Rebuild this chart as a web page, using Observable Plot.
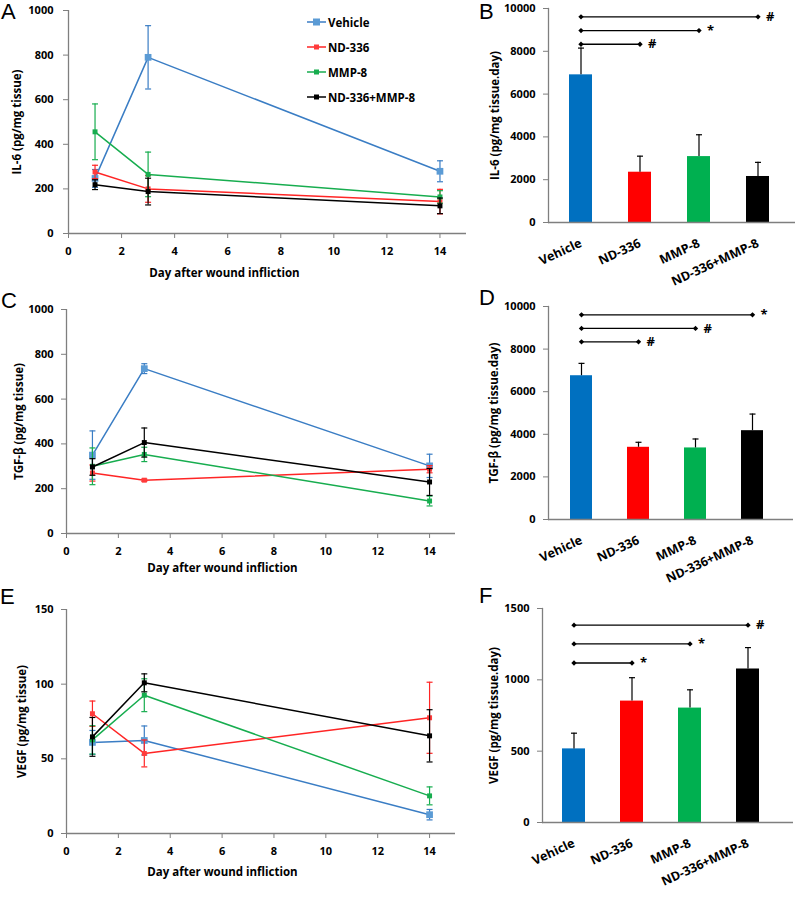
<!DOCTYPE html>
<html><head><meta charset="utf-8">
<script src="https://cdn.jsdelivr.net/npm/d3@7"></script>
<script src="https://cdn.jsdelivr.net/npm/@observablehq/plot@0.6"></script>
<style>
body{margin:0;background:#fff;}
#fig{position:relative;width:795px;height:900px;background:#fff;overflow:hidden;}
.panel{position:absolute;}
.letter{position:absolute;font-family:"Liberation Sans",Arial,sans-serif;font-size:22px;line-height:20px;height:20px;color:#000;}
.legend{position:absolute;font-family:"Open Sans",sans-serif;font-weight:700;font-size:11.5px;color:#000;}
.legend .row{position:absolute;left:0;height:14px;display:flex;align-items:center;white-space:nowrap;}
.legend svg{margin-right:2px;}
</style></head><body><div id="fig"></div>
<script>
// ---------- data ----------
const groups = ["Vehicle", "ND-336", "MMP-8", "ND-336+MMP-8"];
const days = [1, 3, 14];
const dayTicks = [0, 2, 4, 6, 8, 10, 12, 14];
const xTitle = "Day after wound infliction";

// Panel A: IL-6 (pg/mg tissue), per group over days
const il6Means = [[247, 790, 279], [276, 200, 143], [456, 265, 164], [219, 188, 124]];
const il6Errs  = [[40, 142, 47], [30, 60, 55], [125, 100, 28], [22, 60, 35]];
const il6Ticks = [0, 200, 400, 600, 800, 1000];

// Panel C: TGF-β
const tgfMeans = [[350, 736, 302], [270, 238, 287], [300, 353, 145], [297, 406, 230]];
const tgfErrs  = [[108, 22, 52], [36, 5, 16], [82, 32, 22], [37, 65, 60]];
const tgfTicks = [0, 200, 400, 600, 800, 1000];

// Panel E: VEGF
const vegfMeans = [[61, 62.3, 12.6], [80.2, 53.6, 77.5], [62.7, 92.6, 25.2], [64.7, 100.9, 65.4]];
const vegfErrs  = [[8, 9.7, 3.5], [8.5, 9, 23.8], [9.5, 11, 6], [13, 6, 17.5]];
const vegfTicks = [0, 50, 100, 150];

// Panels B, D, F: area under curve (pg/mg tissue.day)
const il6Auc = [6900, 2350, 3080, 2150];
const il6AucErr = [1250, 750, 1020, 660];
const il6AucTicks = [0, 2000, 4000, 6000, 8000, 10000];
const tgfAuc = [6750, 3390, 3360, 4170];
const tgfAucErr = [580, 235, 420, 780];
const tgfAucTicks = [0, 2000, 4000, 6000, 8000, 10000];
const vegfAuc = [516, 851, 802, 1076];
const vegfAucErr = [110, 164, 128, 150];
const vegfAucTicks = [0, 500, 1000, 1500];

// significance brackets (Vehicle vs group)
const il6Sig  = [{to: "ND-336", level: 8330, mark: "#"}, {to: "MMP-8", level: 8970, mark: "*"}, {to: "ND-336+MMP-8", level: 9610, mark: "#"}];
const tgfSig  = [{to: "ND-336", level: 8340, mark: "#"}, {to: "MMP-8", level: 8970, mark: "#"}, {to: "ND-336+MMP-8", level: 9610, mark: "*"}];
const vegfSig = [{to: "ND-336", level: 1118, mark: "*"}, {to: "MMP-8", level: 1252, mark: "*"}, {to: "ND-336+MMP-8", level: 1383, mark: "#"}];

// ---------- styles ----------
const lineColors = ["#3a7dc4", "#ff2525", "#17ad4f", "#000000"];
const markerColors = ["#5b9bd5", "#ff3b3b", "#17ad4f", "#000000"];
const barColors = ["#0070c0", "#ff0000", "#00b050", "#000000"];
const axisGray = "#7f7f7f";
const fontFamily = "'Open Sans', sans-serif";
const baseStyle = {fontFamily, fontSize: "11px", fontWeight: "700", color: "#000", background: "transparent", overflow: "visible"};
const cap = {draw(context, size) { const w = Math.sqrt(size / Math.PI); context.moveTo(-w, 0); context.lineTo(w, 0); }};

const fig = document.getElementById("fig");
function place(el, left, top) {
  const d = document.createElement("div");
  d.className = "panel"; d.style.left = left + "px"; d.style.top = top + "px";
  d.appendChild(el); fig.appendChild(d);
}

function linePanel(o) {
  const rows = [];
  groups.forEach((g, gi) => days.forEach((d, di) => rows.push({group: g, gi, day: d, value: o.means[gi][di], err: o.errs[gi][di]})));
  const marks = [
    Plot.ruleY([0], {stroke: axisGray, strokeWidth: 1.3}),
    Plot.ruleX([0], {stroke: axisGray, strokeWidth: 1.3}),
    Plot.axisX({ticks: dayTicks, tickSize: 5, tickPadding: 9, stroke: axisGray, fill: "#000", label: null, tickFormat: d => String(d)}),
    Plot.axisY({ticks: o.ticks, tickSize: 5, tickPadding: o.yPad, stroke: axisGray, fill: "#000", label: null, tickFormat: d => String(d)}),
    Plot.text([xTitle], {text: d => d, frameAnchor: "bottom-left", lineAnchor: "middle", dx: 156, dy: o.xTitleDy, textAnchor: "middle", fontSize: 11.5}),
    Plot.text([o.yTitle], {text: d => d, frameAnchor: "left", rotate: -90, dx: -o.yTitleDx, textAnchor: "middle", fontSize: 11.5})
  ];
  groups.forEach((g, gi) => {
    const sub = rows.filter(r => r.gi === gi);
    const c = lineColors[gi];
    marks.push(Plot.ruleX(sub, {x: "day", y1: r => r.value - r.err, y2: r => r.value + r.err, stroke: c, strokeWidth: 1.2}));
    marks.push(Plot.dot(sub, {x: "day", y: r => r.value + r.err, symbol: cap, r: 3, stroke: c, strokeWidth: 1.2}));
    marks.push(Plot.dot(sub, {x: "day", y: r => r.value - r.err, symbol: cap, r: 3, stroke: c, strokeWidth: 1.2}));
    marks.push(Plot.line(sub, {x: "day", y: "value", stroke: c, strokeWidth: 1.5}));
    marks.push(Plot.dot(sub, {x: "day", y: "value", symbol: "square", r: gi === 0 ? 3.8 : 2.8, fill: markerColors[gi]}));
  });
  const svg = Plot.plot({
    width: o.width, height: o.height,
    marginLeft: o.m[0], marginTop: o.m[1], marginRight: o.m[2], marginBottom: o.m[3],
    x: {domain: [0, 15]},
    y: {domain: [0, o.ticks[o.ticks.length - 1]]},
    style: baseStyle,
    marks
  });
  place(svg, o.left, o.top);
}

function barPanel(o) {
  const rows = groups.map((g, i) => ({group: g, value: o.values[i], err: o.errs[i]}));
  const pi = 1 - o.barWidth / o.step;
  const r0 = o.firstCenter - o.step / 2;
  const svg = Plot.plot({
    width: o.width, height: o.height,
    marginLeft: o.m[0], marginTop: o.m[1], marginRight: o.m[2], marginBottom: o.m[3],
    x: {domain: groups, range: [r0, r0 + groups.length * o.step], paddingInner: pi, paddingOuter: pi / 2},
    y: {domain: [0, o.ticks[o.ticks.length - 1]]},
    color: {domain: groups, range: barColors},
    style: baseStyle,
    marks: [
      Plot.barY(rows, {x: "group", y: "value", fill: "group"}),
      Plot.ruleX(rows, {x: "group", y1: "value", y2: r => r.value + r.err, stroke: "#000", strokeWidth: 1.2}),
      Plot.dot(rows, {x: "group", y: r => r.value + r.err, symbol: cap, r: 3, stroke: "#000", strokeWidth: 1.2}),
      Plot.ruleY([0], {stroke: axisGray, strokeWidth: 1.3}),
      Plot.frame({anchor: "left", stroke: axisGray, strokeWidth: 1.3}),
      Plot.axisY({ticks: o.ticks, tickSize: 5, tickPadding: 8, stroke: axisGray, fill: "#000", label: null, tickFormat: d => String(d)}),
      Plot.axisX({tickSize: 0, tickRotate: -25, tickPadding: 20, fill: "#000", label: null, fontSize: 12.5}),
      Plot.link(o.sig, {x1: () => groups[0], x2: "to", y1: "level", y2: "level", stroke: "#000", strokeWidth: 1.3}),
      Plot.dot(o.sig, {x: () => groups[0], y: "level", symbol: "diamond2", r: 2.4, fill: "#000"}),
      Plot.dot(o.sig, {x: "to", y: "level", symbol: "diamond2", r: 2.4, fill: "#000"}),
      Plot.text(o.sig, {x: "to", y: "level", text: "mark", dx: 8, textAnchor: "start", fontSize: 13}),
      Plot.text([o.yTitle], {text: d => d, frameAnchor: "left", rotate: -90, dx: -o.yTitleDx, textAnchor: "middle", fontSize: 11.5})
    ]
  });
  place(svg, o.left, o.top);
}

linePanel({means: il6Means, errs: il6Errs, ticks: il6Ticks, yTitle: "IL-6 (pg/mg tissue)",
  left: 0, top: 0, width: 480, height: 290, m: [68, 10, 14, 57], yPad: 10, xTitleDy: 40, yTitleDx: 51});
linePanel({means: tgfMeans, errs: tgfErrs, ticks: tgfTicks, yTitle: "TGF-β (pg/mg tissue)",
  left: 0, top: 290, width: 480, height: 290, m: [66, 19, 25, 47], yPad: 8, xTitleDy: 35, yTitleDx: 47});
linePanel({means: vegfMeans, errs: vegfErrs, ticks: vegfTicks, yTitle: "VEGF (pg/mg tissue)",
  left: 0, top: 580, width: 480, height: 320, m: [66, 29, 25, 67], yPad: 8, xTitleDy: 39, yTitleDx: 44});

barPanel({values: il6Auc, errs: il6AucErr, sig: il6Sig, ticks: il6AucTicks, yTitle: "IL-6 (pg/mg tissue.day)",
  left: 480, top: 0, width: 315, height: 290, m: [68, 8, 0, 68], firstCenter: 100.5, step: 59.3, barWidth: 23.3, yTitleDx: 53});
barPanel({values: tgfAuc, errs: tgfAucErr, sig: tgfSig, ticks: tgfAucTicks, yTitle: "TGF-β (pg/mg tissue.day)",
  left: 480, top: 290, width: 315, height: 290, m: [68, 16, 2, 61], firstCenter: 100, step: 57.3, barWidth: 21.7, yTitleDx: 54});
barPanel({values: vegfAuc, errs: vegfAucErr, sig: vegfSig, ticks: vegfAucTicks, yTitle: "VEGF (pg/mg tissue.day)",
  left: 480, top: 580, width: 315, height: 320, m: [62, 28, 2, 78], firstCenter: 93, step: 58.3, barWidth: 23.3, yTitleDx: 48});

// panel letters
[["A", 1, 2], ["B", 479, 2], ["C", 1, 291], ["D", 479, 288], ["E", 0, 587], ["F", 479, 586]].forEach(([t, x, y]) => {
  const d = document.createElement("div"); d.className = "letter"; d.textContent = t;
  d.style.left = x + "px"; d.style.top = y + "px"; fig.appendChild(d);
});

// legend (panel A)
const leg = document.createElement("div"); leg.className = "legend";
leg.style.left = "307px"; leg.style.top = "15px";
groups.forEach((g, i) => {
  const row = document.createElement("div"); row.className = "row"; row.style.top = (i * 25) + "px";
  const s = i === 0 ? 7 : 5;
  row.innerHTML = `<svg width="19" height="10"><line x1="0" x2="19" y1="5" y2="5" stroke="${lineColors[i]}" stroke-width="1.5"/><rect x="${9.5 - s / 2}" y="${5 - s / 2}" width="${s}" height="${s}" fill="${markerColors[i]}"/></svg>`;
  const span = document.createElement("span"); span.textContent = g; row.appendChild(span);
  leg.appendChild(row);
});
fig.appendChild(leg);
</script></body></html>
